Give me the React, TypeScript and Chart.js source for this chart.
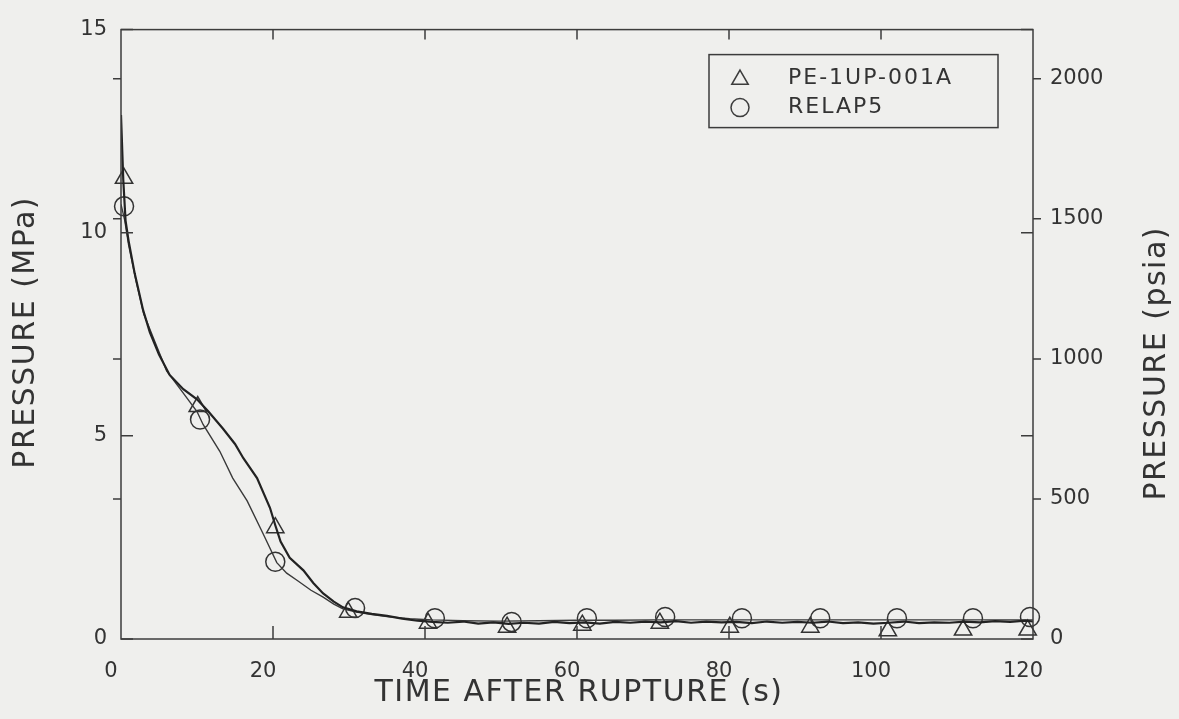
import React, { useEffect, useRef } from "react";
import { Chart, registerables } from "chart.js";

Chart.register(...registerables);

// Time after rupture (s) and pressure (MPa) — measured PE-1UP-001A trace
const measuredTime = [
  0, 0.3, 0.6, 1.0, 1.8, 2.9, 3.8, 5.0, 6.4, 8.2, 10.0, 11.5, 13.4, 15.0, 16.1, 17.9,
  19.6, 20.3, 21.0, 22.2, 24.0, 25.3, 26.6, 28.0, 29.2, 31, 33, 35, 37, 39, 41, 43, 45,
  47, 49, 51, 53, 55, 57, 59, 61, 63, 65, 67, 69, 71, 73, 75, 77, 79, 81, 83, 85, 87,
  89, 91, 93, 95, 97, 99, 101, 103, 105, 107, 109, 111, 113, 115, 117, 119, 120,
];
const measuredPressure = [
  12.9, 11.3, 10.3, 9.8, 9.0, 8.1, 7.55, 7.0, 6.5, 6.15, 5.9, 5.6, 5.18, 4.8, 4.45, 3.96,
  3.23, 2.8, 2.4, 2.0, 1.69, 1.38, 1.12, 0.92, 0.78, 0.68, 0.62, 0.57, 0.5, 0.45, 0.42,
  0.4, 0.43, 0.38, 0.41, 0.37, 0.4, 0.38, 0.42, 0.39, 0.41, 0.38, 0.42, 0.4, 0.43, 0.41,
  0.44, 0.4, 0.43, 0.41, 0.42, 0.39, 0.43, 0.4, 0.42, 0.4, 0.43, 0.39, 0.41, 0.38, 0.4,
  0.43, 0.39, 0.41, 0.4, 0.43, 0.41, 0.44, 0.42, 0.45, 0.43,
];

// RELAP5 calculation
const relapTime = [
  0, 0.5, 1.0, 2.0, 3.0, 4.5, 6.0, 8.0, 10.0, 10.8, 13.0, 14.7, 16.6, 18.7, 20.5, 21.8,
  23.2, 25.0, 26.6, 28.0, 29.2, 31, 33, 35, 38, 41, 45, 50, 55, 60, 65, 70, 75, 80, 85,
  90, 95, 100, 105, 110, 115, 120,
];
const relapPressure = [
  10.7, 10.3, 9.7, 8.8, 8.0, 7.3, 6.6, 6.1, 5.6, 5.28, 4.62, 3.96, 3.4, 2.59, 1.88, 1.62,
  1.44, 1.2, 1.03, 0.86, 0.74, 0.66, 0.6, 0.55, 0.5, 0.47, 0.45, 0.44, 0.45, 0.46, 0.46,
  0.47, 0.47, 0.47, 0.47, 0.47, 0.47, 0.47, 0.47, 0.47, 0.47, 0.47,
];

// Plot symbols
const measuredMarkerTime = [0.4, 10.1, 20.3, 29.9, 40.4, 50.8, 60.7, 70.9, 80.1, 90.7, 100.9, 110.8, 119.3];
const measuredMarkerPressure = [11.34, 5.72, 2.74, 0.66, 0.39, 0.29, 0.34, 0.39, 0.29, 0.29, 0.2, 0.22, 0.22];
const relapMarkerTime = [0.4, 10.4, 20.3, 30.8, 41.3, 51.4, 61.3, 71.6, 81.7, 92.0, 102.1, 112.1, 119.6];
const relapMarkerPressure = [10.65, 5.4, 1.9, 0.76, 0.51, 0.42, 0.51, 0.54, 0.51, 0.51, 0.51, 0.51, 0.54];

const xTicks = [0, 20, 40, 60, 80, 100, 120];
const mpaTicks = [0, 5, 10, 15];
const psiaTicks = [0, 500, 1000, 1500, 2000];
const MPA_TO_PSIA = 145.038;

const legendLabels = ["PE-1UP-001A", "RELAP5"];
const xTitle = "TIME AFTER RUPTURE (s)";
const yTitle = "PRESSURE (MPa)";
const y2Title = "PRESSURE (psia)";

const INK = "#333333";
const FONT = '"DejaVu Sans", "Liberation Sans", sans-serif';

function pts(xs: number[], ys: number[]) {
  return xs.map((x, i) => ({ x, y: ys[i] }));
}

function fixedTicks(values: number[]) {
  return (s: any) => {
    s.ticks = values.map((v) => ({ value: v }));
  };
}

function drawTriangle(ctx: CanvasRenderingContext2D, x: number, y: number, r: number) {
  ctx.beginPath();
  let rad = 0;
  ctx.moveTo(x + Math.sin(rad) * r, y - Math.cos(rad) * r);
  rad += (2 * Math.PI) / 3;
  ctx.lineTo(x + Math.sin(rad) * r, y - Math.cos(rad) * r);
  rad += (2 * Math.PI) / 3;
  ctx.lineTo(x + Math.sin(rad) * r, y - Math.cos(rad) * r);
  ctx.closePath();
  ctx.stroke();
}

const decorPlugin = {
  id: "decor",
  afterDraw(chart: any) {
    const { ctx, chartArea: a, scales } = chart;
    const xs = scales.x;
    const ys = scales.y;
    const y2s = scales.y2;
    ctx.save();
    ctx.strokeStyle = "#3c3c3c";
    ctx.lineWidth = 1.5;
    ctx.strokeRect(a.left, a.top, a.right - a.left, a.bottom - a.top);
    ctx.beginPath();
    mpaTicks.forEach((v) => {
      const py = ys.getPixelForValue(v);
      ctx.moveTo(a.left, py);
      ctx.lineTo(a.left + 12, py);
      ctx.moveTo(a.right, py);
      ctx.lineTo(a.right - 12, py);
    });
    psiaTicks.forEach((v) => {
      if (v === 0) return;
      const py = y2s.getPixelForValue(v);
      ctx.moveTo(a.left - 8, py);
      ctx.lineTo(a.left, py);
      ctx.moveTo(a.right, py);
      ctx.lineTo(a.right + 8, py);
    });
    xTicks.forEach((v) => {
      if (v === 0 || v === 120) return;
      const px = xs.getPixelForValue(v);
      ctx.moveTo(px, a.bottom);
      ctx.lineTo(px, a.bottom - 13);
      ctx.moveTo(px, a.top);
      ctx.lineTo(px, a.top + 10);
    });
    ctx.stroke();

    // legend box
    const bx = a.right - 324;
    const by = a.top + 25;
    ctx.lineWidth = 1.5;
    ctx.strokeStyle = "#3c3c3c";
    ctx.strokeRect(bx, by, 289, 73);
    drawTriangle(ctx, bx + 31, by + 25, 9.5);
    ctx.beginPath();
    ctx.arc(bx + 31, by + 53, 9, 0, Math.PI * 2);
    ctx.stroke();
    ctx.fillStyle = INK;
    ctx.font = `22px ${FONT}`;
    (ctx as any).letterSpacing = "2px";
    ctx.textAlign = "left";
    ctx.textBaseline = "middle";
    ctx.fillText(legendLabels[0], bx + 79, by + 24);
    ctx.fillText(legendLabels[1], bx + 79, by + 53);

    // axis titles
    ctx.font = `30px ${FONT}`;
    (ctx as any).letterSpacing = "1.5px";
    ctx.textAlign = "center";
    ctx.textBaseline = "middle";
    ctx.fillText(xTitle, (a.left + a.right) / 2 + 2, a.bottom + 54);

    ctx.save();
    ctx.translate(a.left - 95, (a.top + a.bottom) / 2 - 2);
    ctx.rotate(-Math.PI / 2);
    ctx.fillText(yTitle, 0, 0);
    ctx.restore();

    ctx.save();
    ctx.translate(a.right + 124, (a.top + a.bottom) / 2 + 29);
    ctx.rotate(-Math.PI / 2);
    ctx.fillText(y2Title, 0, 0);
    ctx.restore();

    (ctx as any).letterSpacing = "0px";
    ctx.restore();
  },
};

export default function App() {
  const canvasRef = useRef<HTMLCanvasElement | null>(null);

  useEffect(() => {
    const canvas = canvasRef.current;
    if (!canvas) return;
    const tickFont = { family: FONT, size: 21 };
    const chart = new Chart(canvas, {
      type: "line",
      data: {
        datasets: [
          {
            label: legendLabels[0],
            data: pts(measuredTime, measuredPressure),
            borderColor: "#222222",
            borderWidth: 2.2,
            pointRadius: 0,
            tension: 0,
            fill: false,
            yAxisID: "y",
          },
          {
            label: legendLabels[1],
            data: pts(relapTime, relapPressure),
            borderColor: "#3a3a3a",
            borderWidth: 1.4,
            pointRadius: 0,
            tension: 0,
            fill: false,
            yAxisID: "y",
          },
          {
            label: legendLabels[0] + " symbols",
            data: pts(measuredMarkerTime, measuredMarkerPressure),
            showLine: false,
            pointStyle: "triangle",
            pointRadius: 10,
            pointBorderWidth: 1.5,
            pointBorderColor: "#333333",
            pointBackgroundColor: "rgba(0,0,0,0)",
            borderColor: "#333333",
            backgroundColor: "rgba(0,0,0,0)",
            clip: false,
            yAxisID: "y",
          },
          {
            label: legendLabels[1] + " symbols",
            data: pts(relapMarkerTime, relapMarkerPressure),
            showLine: false,
            pointStyle: "circle",
            pointRadius: 9.5,
            pointBorderWidth: 1.5,
            pointBorderColor: "#333333",
            pointBackgroundColor: "rgba(0,0,0,0)",
            borderColor: "#333333",
            backgroundColor: "rgba(0,0,0,0)",
            clip: false,
            yAxisID: "y",
          },
        ],
      },
      options: {
        animation: false,
        responsive: false,
        devicePixelRatio: 1,
        layout: { padding: { top: 25, left: 0, right: 0, bottom: 0 } },
        plugins: {
          legend: { display: false },
          tooltip: { enabled: false },
        },
        scales: {
          x: {
            type: "linear",
            position: "bottom",
            min: 0,
            max: 120,
            grid: { display: false, drawTicks: false },
            border: { display: false },
            ticks: {
              padding: 20,
              labelOffset: -10,
              maxRotation: 0,
              autoSkip: false,
              color: INK,
              font: tickFont,
              callback: (v: any) => String(v),
            },
            afterBuildTicks: fixedTicks(xTicks),
            afterFit: (s: any) => {
              s.height = 80;
            },
          },
          y: {
            type: "linear",
            position: "left",
            min: 0,
            max: 15,
            grid: { display: false, drawTicks: false },
            border: { display: false },
            ticks: {
              padding: 14,
              autoSkip: false,
              color: INK,
              font: tickFont,
              callback: (v: any) => String(v),
            },
            afterBuildTicks: fixedTicks(mpaTicks),
            afterFit: (s: any) => {
              s.width = 121;
            },
          },
          y2: {
            type: "linear",
            position: "right",
            min: 0,
            max: 15 * MPA_TO_PSIA,
            grid: { display: false, drawTicks: false, drawOnChartArea: false },
            border: { display: false },
            ticks: {
              padding: 17,
              autoSkip: false,
              color: INK,
              font: tickFont,
              callback: (v: any) => String(v),
            },
            afterBuildTicks: fixedTicks(psiaTicks),
            afterFit: (s: any) => {
              s.width = 146;
            },
          },
        },
      } as any,
      plugins: [decorPlugin],
    });
    return () => chart.destroy();
  }, []);

  return (
    <div
      style={{
        position: "fixed",
        left: 0,
        top: 0,
        width: 1179,
        height: 719,
        background: "#efefed",
      }}
    >
      <canvas ref={canvasRef} width={1179} height={719} style={{ display: "block" }} />
    </div>
  );
}
